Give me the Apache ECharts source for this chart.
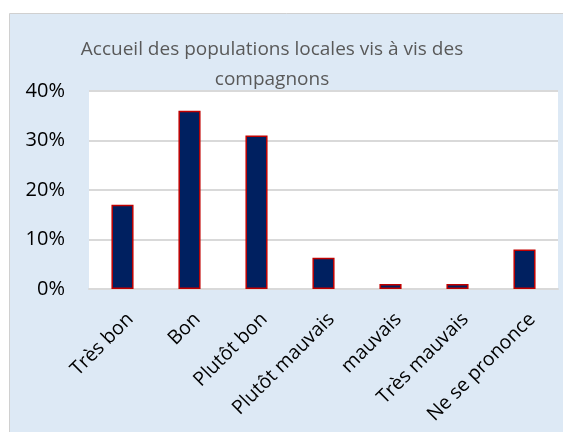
<!DOCTYPE html>
<html><head><meta charset="utf-8">
<script src="https://cdn.jsdelivr.net/npm/echarts@6/dist/echarts.min.js"></script>
<style>html,body{margin:0;padding:0;background:#fff}#c{width:563px;height:432px}</style>
</head><body><div id="c"></div>
<script>
const categories = ['Très bon','Bon','Plutôt bon','Plutôt mauvais','mauvais','Très mauvais','Ne se prononce'];
const values = [17, 36, 31, 6.3, 1, 1, 8];
const yTicks = [0, 10, 20, 30, 40];

const chart = echarts.init(document.getElementById('c'));
chart.setOption({
  animation: false,
  backgroundColor: '#ffffff',
  graphic: [{
    type: 'rect', z: -10, silent: true,
    shape: {x: 9.5, y: 13.5, width: 560, height: 430},
    style: {fill: '#dde9f5', stroke: '#d0d0d0', lineWidth: 1}
  }, {
    type: 'rect', z: -5, silent: true,
    shape: {x: 89, y: 91, width: 469, height: 198},
    style: {fill: '#ffffff'}
  }],
  title: {
    text: 'Accueil des populations locales vis à vis des\ncompagnons',
    left: 267, top: 30, textAlign: 'center',
    textStyle: {fontFamily: 'Open Sans', fontSize: 19, fontWeight: 'normal', color: '#595959', lineHeight: 30}
  },
  grid: {left: 89, right: 5, top: 91, bottom: 143, containLabel: false},
  xAxis: {
    type: 'category', data: categories,
    axisLine: {lineStyle: {color: '#d9d9d9', width: 2}},
    axisTick: {show: false},
    axisLabel: {rotate: 45, interval: 0, margin: 35, padding: [0, -11, 0, 0], fontFamily: 'Open Sans', fontSize: 19.5, color: '#000'}
  },
  yAxis: {
    type: 'value', min: 0, max: 40, interval: 10,
    axisLine: {show: false}, axisTick: {show: false},
    splitLine: {lineStyle: {color: '#d9d9d9', width: 2}},
    axisLabel: {formatter: v => yTicks.includes(v) ? v + '%' : '', margin: 24, fontFamily: 'Open Sans', fontSize: 20, color: '#000'}
  },
  series: [{
    type: 'bar', data: values, barWidth: '33%',
    itemStyle: {color: '#002060', borderColor: '#c00000', borderWidth: 1.5}
  }]
});
</script></body></html>
